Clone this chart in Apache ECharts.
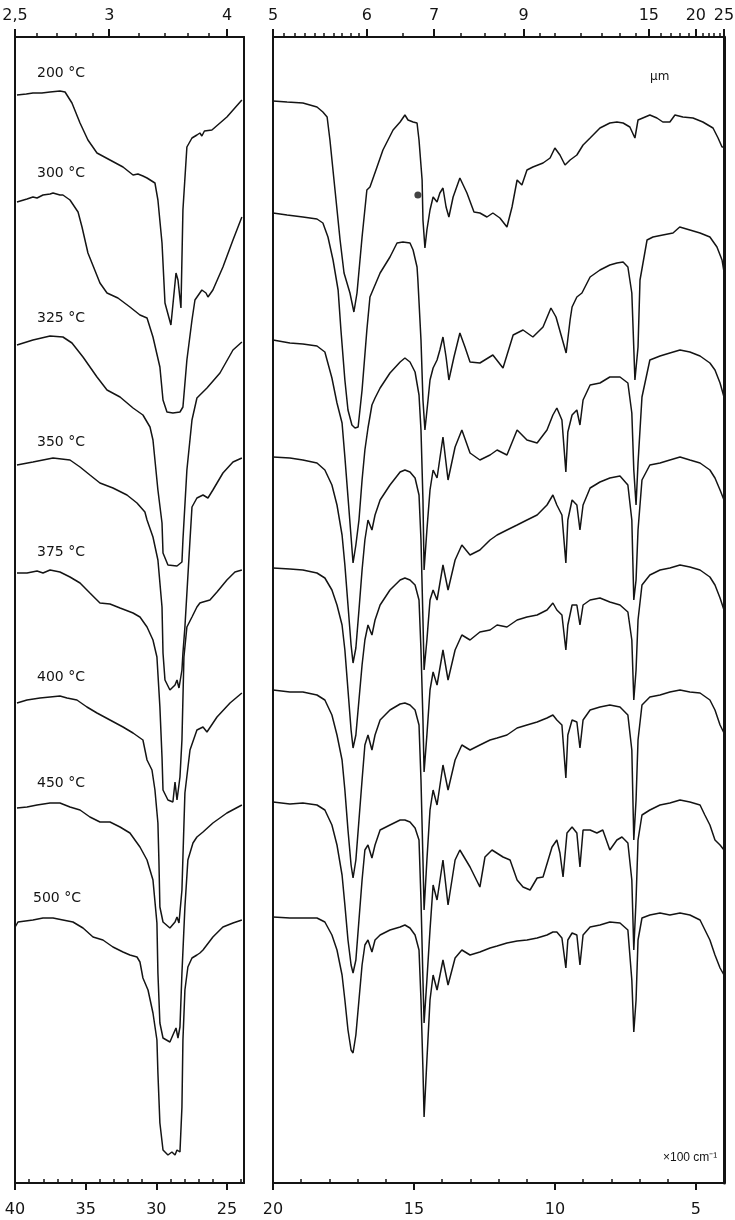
<!DOCTYPE html>
<html><head><meta charset="utf-8">
<script src="https://cdn.jsdelivr.net/npm/echarts@6/dist/echarts.min.js"></script>
<style>html,body{margin:0;padding:0;background:#fff}#c{width:735px;height:1220px}</style>
</head><body><div id="c"></div>
<script>
// ---------- DATA (x: wavenumber x100 cm-1 ; y: vertical trace level, arbitrary units, larger = lower) ----------
const temperatures = ['200 °C','300 °C','325 °C','350 °C','375 °C','400 °C','450 °C','500 °C'];

// axis ticks
const bottomLeftMajor = [25,30,35,40];
const bottomLeftMinor = [24,26,27,28,29,31,32,33,34,36,37,38,39];
const bottomRightMajor = [5,10,15,20];
const bottomRightMinor = [6,7,8,9,11,12,13,14,16,17,18,19];
const topLeftUm = [2.5,3,4];
const topLeftUmLabels = ['2,5','3','4'];
const topLeftUmMinor = [2.6,2.7,2.8,2.9,3.2,3.4,3.6,3.8];
const topRightUm = [5,6,7,9,15,20,25];
const topRightUmLabels = ['5','6','7','9','15','20','25'];
const topRightUmMinor = [5.1,5.2,5.3,5.4,5.5,5.6,5.7,5.8,5.9,6.5,7.5,8,8.5,9.5,10,11,12,13,14,16,17,18,19,21,22,23,24];

// ---- left panel (4000 - 2380 cm-1) ----
const L200 = [[39.86,95],[39.2,94],[38.73,93],[38.1,93],[37.52,92],[36.82,91],[36.46,92],[35.97,103],[35.40,123],[34.84,140],[34.20,153],[33.28,160],[32.36,167],[31.65,175],[31.3,174],[30.95,176],[30.66,178],[30.10,183],[29.89,200],[29.60,243],[29.39,303],[28.97,325],[28.61,273],[28.47,280],[28.26,308],[28.12,210],[27.84,147],[27.48,138],[27.13,135],[26.92,133],[26.78,136],[26.6,131],[26.07,130],[25.01,117],[23.95,100]];
const L300 = [[39.86,202],[39.15,199],[38.73,197],[38.44,198],[38.02,195],[37.52,194],[37.31,193],[36.82,195],[36.61,195],[36.11,200],[35.54,212],[35.26,227],[34.84,253],[33.99,283],[33.49,293],[32.72,298],[31.87,307],[31.16,315],[30.66,318],[30.24,337],[29.75,367],[29.53,400],[29.25,412],[28.83,413],[28.33,412],[28.12,407],[27.84,360],[27.48,320],[27.27,300],[26.78,290],[26.49,293],[26.35,297],[26.00,290],[25.29,267],[24.58,240],[23.95,217]];
const L325 = [[39.86,345],[38.73,340],[37.52,336],[36.61,337],[35.97,343],[35.19,357],[34.20,377],[33.49,390],[32.57,397],[31.65,408],[30.95,415],[30.45,427],[30.24,440],[29.89,490],[29.60,523],[29.53,553],[29.18,565],[28.54,566],[28.19,562],[28.12,540],[27.84,470],[27.48,420],[27.13,398],[26.42,388],[25.50,373],[24.58,350],[23.95,342]];
const L350 = [[39.86,465],[38.73,462],[38.02,460],[37.31,458],[36.11,460],[35.40,467],[34.70,475],[33.99,483],[33.07,488],[32.08,495],[31.37,503],[30.81,512],[30.66,520],[30.24,537],[29.89,560],[29.60,607],[29.53,653],[29.39,680],[29.04,690],[28.68,685],[28.54,680],[28.40,688],[28.19,670],[28.12,653],[27.98,627],[27.62,540],[27.48,507],[27.13,498],[26.70,495],[26.35,498],[26.00,490],[25.29,473],[24.58,462],[23.95,458]];
const L375 = [[39.86,573],[39.15,573],[38.44,571],[38.02,573],[37.52,570],[36.82,572],[36.11,577],[35.40,583],[34.70,593],[33.99,603],[33.28,604],[32.57,608],[31.65,613],[31.16,617],[30.66,627],[30.24,640],[29.96,657],[29.75,707],[29.60,757],[29.53,790],[29.18,800],[28.83,802],[28.68,782],[28.54,800],[28.33,777],[28.19,740],[28.05,657],[27.84,627],[27.48,617],[27.13,607],[26.92,603],[26.70,602],[26.21,600],[25.71,592],[25.01,580],[24.44,572],[23.95,570]];
const L400 = [[39.86,703],[39.15,700],[38.23,698],[37.52,697],[36.82,696],[36.32,698],[35.62,700],[34.91,707],[34.20,713],[33.28,720],[32.36,727],[31.65,733],[30.95,740],[30.66,760],[30.31,770],[30.10,790],[29.89,823],[29.82,860],[29.75,907],[29.53,922],[29.04,928],[28.68,922],[28.54,917],[28.40,923],[28.19,890],[28.12,857],[27.98,793],[27.62,750],[27.13,730],[26.70,727],[26.42,732],[25.71,717],[24.79,703],[23.95,693]];
const L450 = [[39.86,808],[39.15,807],[38.44,805],[37.52,803],[36.82,803],[36.11,807],[35.40,810],[34.70,817],[33.99,822],[33.28,822],[32.57,827],[31.87,833],[31.16,847],[30.66,860],[30.24,880],[29.96,923],[29.89,973],[29.75,1023],[29.53,1038],[29.04,1042],[28.83,1035],[28.61,1028],[28.47,1038],[28.33,1027],[28.19,973],[27.98,907],[27.77,860],[27.41,843],[27.13,837],[26.70,832],[26.00,823],[25.01,813],[23.95,805]];
const L500 = [[39.99,927],[39.79,922],[38.73,920],[38.02,918],[37.31,918],[36.61,920],[35.90,922],[35.19,928],[34.48,937],[33.78,940],[33.07,947],[32.36,952],[31.87,955],[31.37,957],[31.16,962],[30.95,978],[30.59,990],[30.24,1013],[29.96,1040],[29.89,1073],[29.75,1123],[29.53,1150],[29.18,1155],[28.90,1152],[28.68,1155],[28.54,1150],[28.33,1152],[28.19,1107],[28.12,1040],[27.98,990],[27.77,967],[27.48,958],[27.13,955],[26.92,953],[26.70,950],[26.00,937],[25.29,927],[24.58,923],[23.95,920]];

// ---- right panel (2000 - 400 cm-1) ----
const R200 = [[20.00,101],[19.50,102],[18.94,103],[18.44,107],[18.23,112],[18.08,117],[17.98,140],[17.80,190],[17.62,240],[17.48,273],[17.27,293],[17.13,312],[17.02,293],[16.84,237],[16.67,190],[16.56,187],[16.31,167],[16.10,150],[15.74,130],[15.49,122],[15.32,115],[15.21,120],[15.03,122],[14.89,123],[14.82,140],[14.71,180],[14.68,220],[14.61,248],[14.54,230],[14.43,210],[14.32,197],[14.18,202],[14.08,193],[13.97,188],[13.86,207],[13.76,217],[13.61,197],[13.37,178],[13.12,193],[12.87,212],[12.66,213],[12.41,217],[12.20,213],[11.95,218],[11.70,227],[11.52,207],[11.34,180],[11.17,185],[10.99,170],[10.78,167],[10.42,163],[10.17,158],[10.00,148],[9.82,155],[9.64,165],[9.46,160],[9.22,155],[9.00,145],[8.75,138],[8.40,128],[8.05,123],[7.80,122],[7.58,123],[7.34,127],[7.16,138],[7.05,120],[6.63,115],[6.38,118],[6.17,122],[5.92,122],[5.74,115],[5.46,117],[5.10,118],[4.75,122],[4.39,128],[4.21,138],[4.07,147],[4.00,147]];
const R300 = [[20.00,213],[19.50,215],[18.94,217],[18.44,219],[18.23,223],[18.05,237],[17.87,260],[17.69,290],[17.59,330],[17.45,380],[17.34,410],[17.20,425],[17.09,428],[16.98,427],[16.84,390],[16.67,330],[16.56,297],[16.20,273],[15.85,257],[15.60,243],[15.39,242],[15.14,243],[15.03,250],[14.89,267],[14.86,280],[14.75,340],[14.68,400],[14.61,430],[14.50,400],[14.43,380],[14.32,368],[14.18,360],[14.08,350],[13.97,337],[13.86,357],[13.76,380],[13.58,357],[13.37,333],[13.19,347],[13.01,362],[12.66,363],[12.20,355],[11.84,368],[11.48,335],[11.13,330],[10.78,337],[10.42,327],[10.14,308],[9.96,317],[9.78,335],[9.60,353],[9.46,320],[9.39,307],[9.22,297],[9.04,293],[8.75,277],[8.40,270],[8.05,265],[7.80,263],[7.58,262],[7.41,267],[7.27,293],[7.16,380],[7.05,347],[6.98,280],[6.73,240],[6.52,237],[6.17,235],[5.81,233],[5.57,227],[5.21,230],[4.85,233],[4.50,237],[4.25,247],[4.07,260],[4.00,272]];
const R450 = [[20.00,802],[19.40,804],[18.94,803],[18.44,805],[18.16,810],[17.91,825],[17.73,845],[17.55,875],[17.45,905],[17.34,940],[17.23,965],[17.16,973],[17.06,960],[16.95,920],[16.84,880],[16.74,850],[16.63,845],[16.49,858],[16.38,845],[16.20,830],[15.85,825],[15.49,820],[15.32,820],[15.14,822],[14.96,828],[14.82,840],[14.75,900],[14.68,980],[14.64,1023],[14.54,980],[14.43,930],[14.32,885],[14.18,900],[13.97,860],[13.79,905],[13.54,860],[13.37,850],[13.01,867],[12.66,887],[12.48,857],[12.23,850],[11.84,857],[11.59,860],[11.34,880],[11.13,887],[10.88,890],[10.63,878],[10.42,877],[10.10,847],[9.93,840],[9.82,853],[9.71,877],[9.57,833],[9.39,827],[9.22,833],[9.11,867],[9.00,830],[8.75,830],[8.51,833],[8.30,830],[8.05,850],[7.80,840],[7.62,837],[7.41,843],[7.27,880],[7.20,950],[7.12,900],[7.05,840],[6.91,815],[6.63,810],[6.27,805],[5.92,803],[5.56,800],[5.21,802],[4.85,805],[4.68,815],[4.50,825],[4.32,840],[4.14,845],[4.00,850]];
// shared wavenumber grid for the other right-panel traces
const wnR = [20.00,19.40,18.94,18.44,18.16,17.91,17.73,17.55,17.45,17.34,17.23,17.16,17.06,16.95,16.84,16.74,16.63,16.49,16.38,16.20,15.85,15.49,15.32,15.14,14.96,14.82,14.75,14.68,14.64,14.54,14.43,14.32,14.18,13.97,13.79,13.54,13.30,13.01,12.66,12.30,12.05,11.70,11.34,10.99,10.63,10.28,10.07,9.93,9.75,9.61,9.54,9.39,9.22,9.11,9.00,8.75,8.40,8.05,7.69,7.41,7.27,7.20,7.12,7.05,6.91,6.63,6.27,5.92,5.56,5.21,4.85,4.50,4.32,4.14,4.00];
const yR325 = [340,343,344,346,352,378,403,423,457,497,537,563,545,520,480,450,428,405,398,388,373,362,358,362,372,395,430,500,570,530,490,470,478,437,480,447,430,453,460,455,450,455,430,440,443,430,415,408,420,472,432,415,410,425,400,385,383,377,377,383,413,470,505,463,397,360,356,353,350,352,356,363,370,383,397];
const yR350 = [457,458,460,463,470,485,505,535,565,605,645,663,648,610,570,540,520,530,515,500,485,472,470,472,478,495,540,620,670,640,600,590,600,565,590,560,545,555,550,540,535,530,525,520,515,505,495,505,515,563,520,500,505,530,505,488,482,478,476,485,520,600,580,530,480,465,463,460,457,460,463,470,478,490,500];
const yR375 = [568,569,570,573,578,590,605,625,650,690,730,748,735,700,665,640,625,635,620,605,590,580,578,580,585,600,650,720,772,735,690,672,685,650,680,650,635,640,632,630,625,627,620,617,615,610,603,610,615,650,625,605,605,625,605,600,598,602,605,612,640,700,670,620,585,575,570,568,565,567,570,577,585,598,610];
const yR400 = [690,692,692,695,700,715,735,760,790,830,865,878,860,820,780,745,735,750,735,720,710,704,703,705,710,725,780,860,910,860,810,790,805,765,790,760,745,750,745,740,738,735,728,725,722,718,715,720,725,778,735,720,722,748,720,710,707,705,707,715,750,840,800,740,705,697,695,692,690,692,693,700,710,725,733];
const yR500 = [917,918,918,918,922,935,950,975,1000,1030,1050,1053,1035,1000,965,945,940,952,940,935,930,927,925,928,935,950,1000,1070,1117,1060,1000,975,990,960,985,958,950,955,952,948,946,943,941,940,938,935,932,932,938,968,940,933,935,965,935,927,925,922,923,930,980,1032,1000,940,918,915,913,915,913,915,920,940,955,968,975];
const markedPoint = [[14.86,195]];

// ---------- LAYOUT ----------
const INK = '#141414';
const FONT = '"DejaVu Sans", sans-serif';
const SMALL_FONT = '"Liberation Sans", sans-serif';
const Y_MIN = 37, Y_MAX = 1183;
const L_MIN = 23.8, L_MAX = 40, R_MIN = 4, R_MAX = 20;
const labelPos = [[37,73],[37,173],[37,318],[37,442],[37,552],[37,677],[37,783],[33,898]];

function bottomMajor(g, min, max, ticks) {
  return {type:'value', gridIndex:g, position:'bottom', min, max, inverse:true,
    axisLine:{show:true, onZero:false, lineStyle:{color:INK, width:2}},
    axisTick:{show:true, inside:false, length:7, customValues:ticks, lineStyle:{color:INK, width:2}},
    axisLabel:{show:true, customValues:ticks, margin:19, color:INK, fontSize:16, fontFamily:FONT,
      formatter: v => String(Math.round(v))},
    splitLine:{show:false}};
}
function tickOnly(g, min, max, pos, ticks, inside, len) {
  return {type:'value', gridIndex:g, position:pos, min, max, inverse:true,
    axisLine:{show:false, onZero:false},
    axisTick:{show:true, inside, length:len, customValues:ticks, lineStyle:{color:INK, width:1.5}},
    axisLabel:{show:false}, splitLine:{show:false}};
}
function topMajor(g, min, max, um, labels) {
  const vals = um.map(u => 100 / u);
  return {type:'value', gridIndex:g, position:'top', min, max, inverse:true,
    axisLine:{show:true, onZero:false, lineStyle:{color:INK, width:2}},
    axisTick:{show:true, inside:false, length:8, customValues:vals, lineStyle:{color:INK, width:2}},
    axisLabel:{show:true, customValues:vals, margin:13, color:INK, fontSize:16, fontFamily:FONT,
      formatter: v => { const i = vals.findIndex(t => Math.abs(t - v) < 1e-6); return i >= 0 ? labels[i] : ''; }},
    splitLine:{show:false}};
}
function yAx(g, pos, w) {
  return {type:'value', gridIndex:g, position:pos, min:Y_MIN, max:Y_MAX, inverse:true,
    axisLine:{show:true, onZero:false, lineStyle:{color:INK, width:w}},
    axisTick:{show:false}, axisLabel:{show:false}, splitLine:{show:false}};
}
function trace(name, data, xi, yi) {
  return {type:'line', name, data, xAxisIndex:xi, yAxisIndex:yi, showSymbol:false, symbol:'none',
    smooth:false, silent:true, animation:false, lineStyle:{color:INK, width:1.5}, z:3};
}
const zipR = ys => wnR.map((w, i) => [w, ys[i]]);

const leftData = [L200, L300, L325, L350, L375, L400, L450, L500];
const rightData = [R200, R300, zipR(yR325), zipR(yR350), zipR(yR375), zipR(yR400), R450, zipR(yR500)];

const series = [];
leftData.forEach((d, i) => series.push(trace(temperatures[i] + ' A', d, 0, 0)));
rightData.forEach((d, i) => series.push(trace(temperatures[i] + ' B', d, 4, 2)));
series.push({type:'scatter', data:markedPoint, xAxisIndex:4, yAxisIndex:2, symbolSize:7,
  itemStyle:{color:INK}, silent:true, animation:false, z:4});

const graphics = temperatures.map((t, i) => ({type:'text', x:labelPos[i][0], y:labelPos[i][1],
  style:{text:t, fill:INK, font:'14px ' + FONT, textVerticalAlign:'middle'}}));
graphics.push({type:'text', x:650, y:77, style:{text:'µm', fill:INK, font:'12px ' + FONT, textVerticalAlign:'middle'}});
graphics.push({type:'text', x:663, y:1158, style:{text:'×100 cm⁻¹', fill:INK, font:'12px ' + SMALL_FONT, textVerticalAlign:'middle'}});

const chart = echarts.init(document.getElementById('c'), null, {renderer:'canvas'});
chart.setOption({
  animation:false,
  backgroundColor:'#ffffff',
  grid:[
    {left:15, top:Y_MIN, width:229, height:Y_MAX - Y_MIN, outerBoundsMode:'none', containLabel:false},
    {left:273, top:Y_MIN, width:451, height:Y_MAX - Y_MIN, outerBoundsMode:'none', containLabel:false}
  ],
  xAxis:[
    bottomMajor(0, L_MIN, L_MAX, bottomLeftMajor),
    tickOnly(0, L_MIN, L_MAX, 'bottom', bottomLeftMinor, true, 4),
    topMajor(0, L_MIN, L_MAX, topLeftUm, topLeftUmLabels),
    tickOnly(0, L_MIN, L_MAX, 'top', topLeftUmMinor.map(u => 100 / u), false, 4),
    bottomMajor(1, R_MIN, R_MAX, bottomRightMajor),
    tickOnly(1, R_MIN, R_MAX, 'bottom', bottomRightMinor, true, 4),
    topMajor(1, R_MIN, R_MAX, topRightUm, topRightUmLabels),
    tickOnly(1, R_MIN, R_MAX, 'top', topRightUmMinor.map(u => 100 / u), false, 4)
  ],
  yAxis:[yAx(0, 'left', 2), yAx(0, 'right', 2), yAx(1, 'left', 2), yAx(1, 'right', 3)],
  series,
  graphic:graphics
});
</script></body></html>
